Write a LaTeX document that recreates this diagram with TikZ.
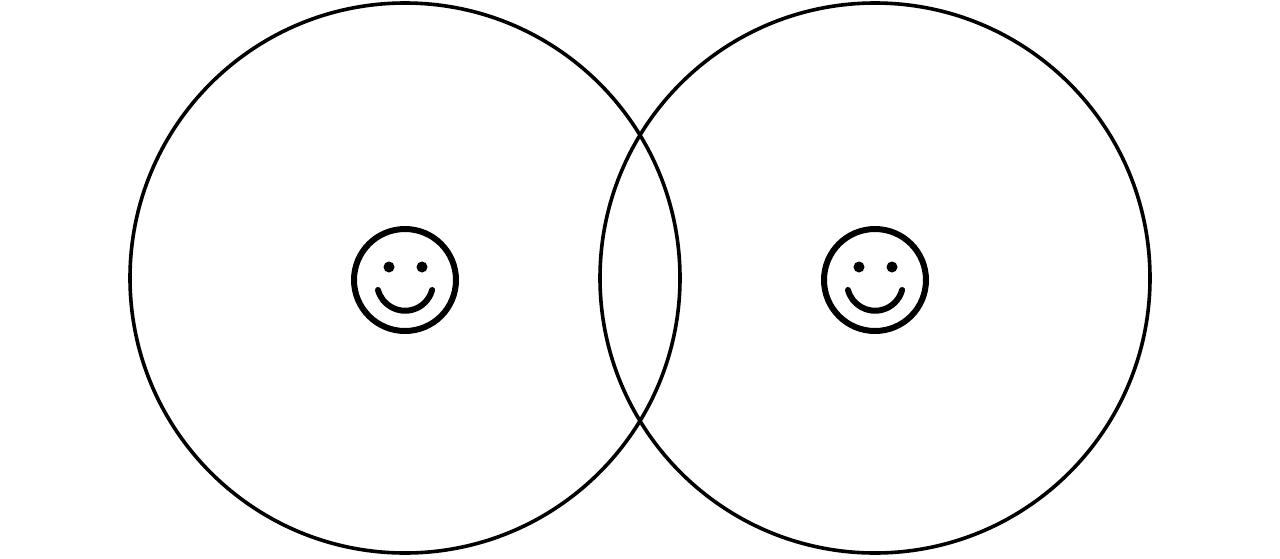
\documentclass[tikz,border=0pt]{standalone}
\begin{document}
\begin{tikzpicture}[x=1pt,y=-1pt,
  big/.style={line width=3.6pt},
  face/.style={line width=6pt},
  eye/.style={fill=black}]
\useasboundingbox (0,0) rectangle (1280,558);
\foreach \n/\cx in {L/405,R/875}{
  \draw[big] (\cx,278) circle (275);
  \draw[face] (\cx,280) circle (51);
  \fill[eye] (\cx-16,267) circle (5.5);
  \fill[eye] (\cx+17,267) circle (5.5);
  \draw[face,line cap=round] (\cx-27,290) arc[start angle=165,end angle=15,radius=28];
}
\end{tikzpicture}
\end{document}
